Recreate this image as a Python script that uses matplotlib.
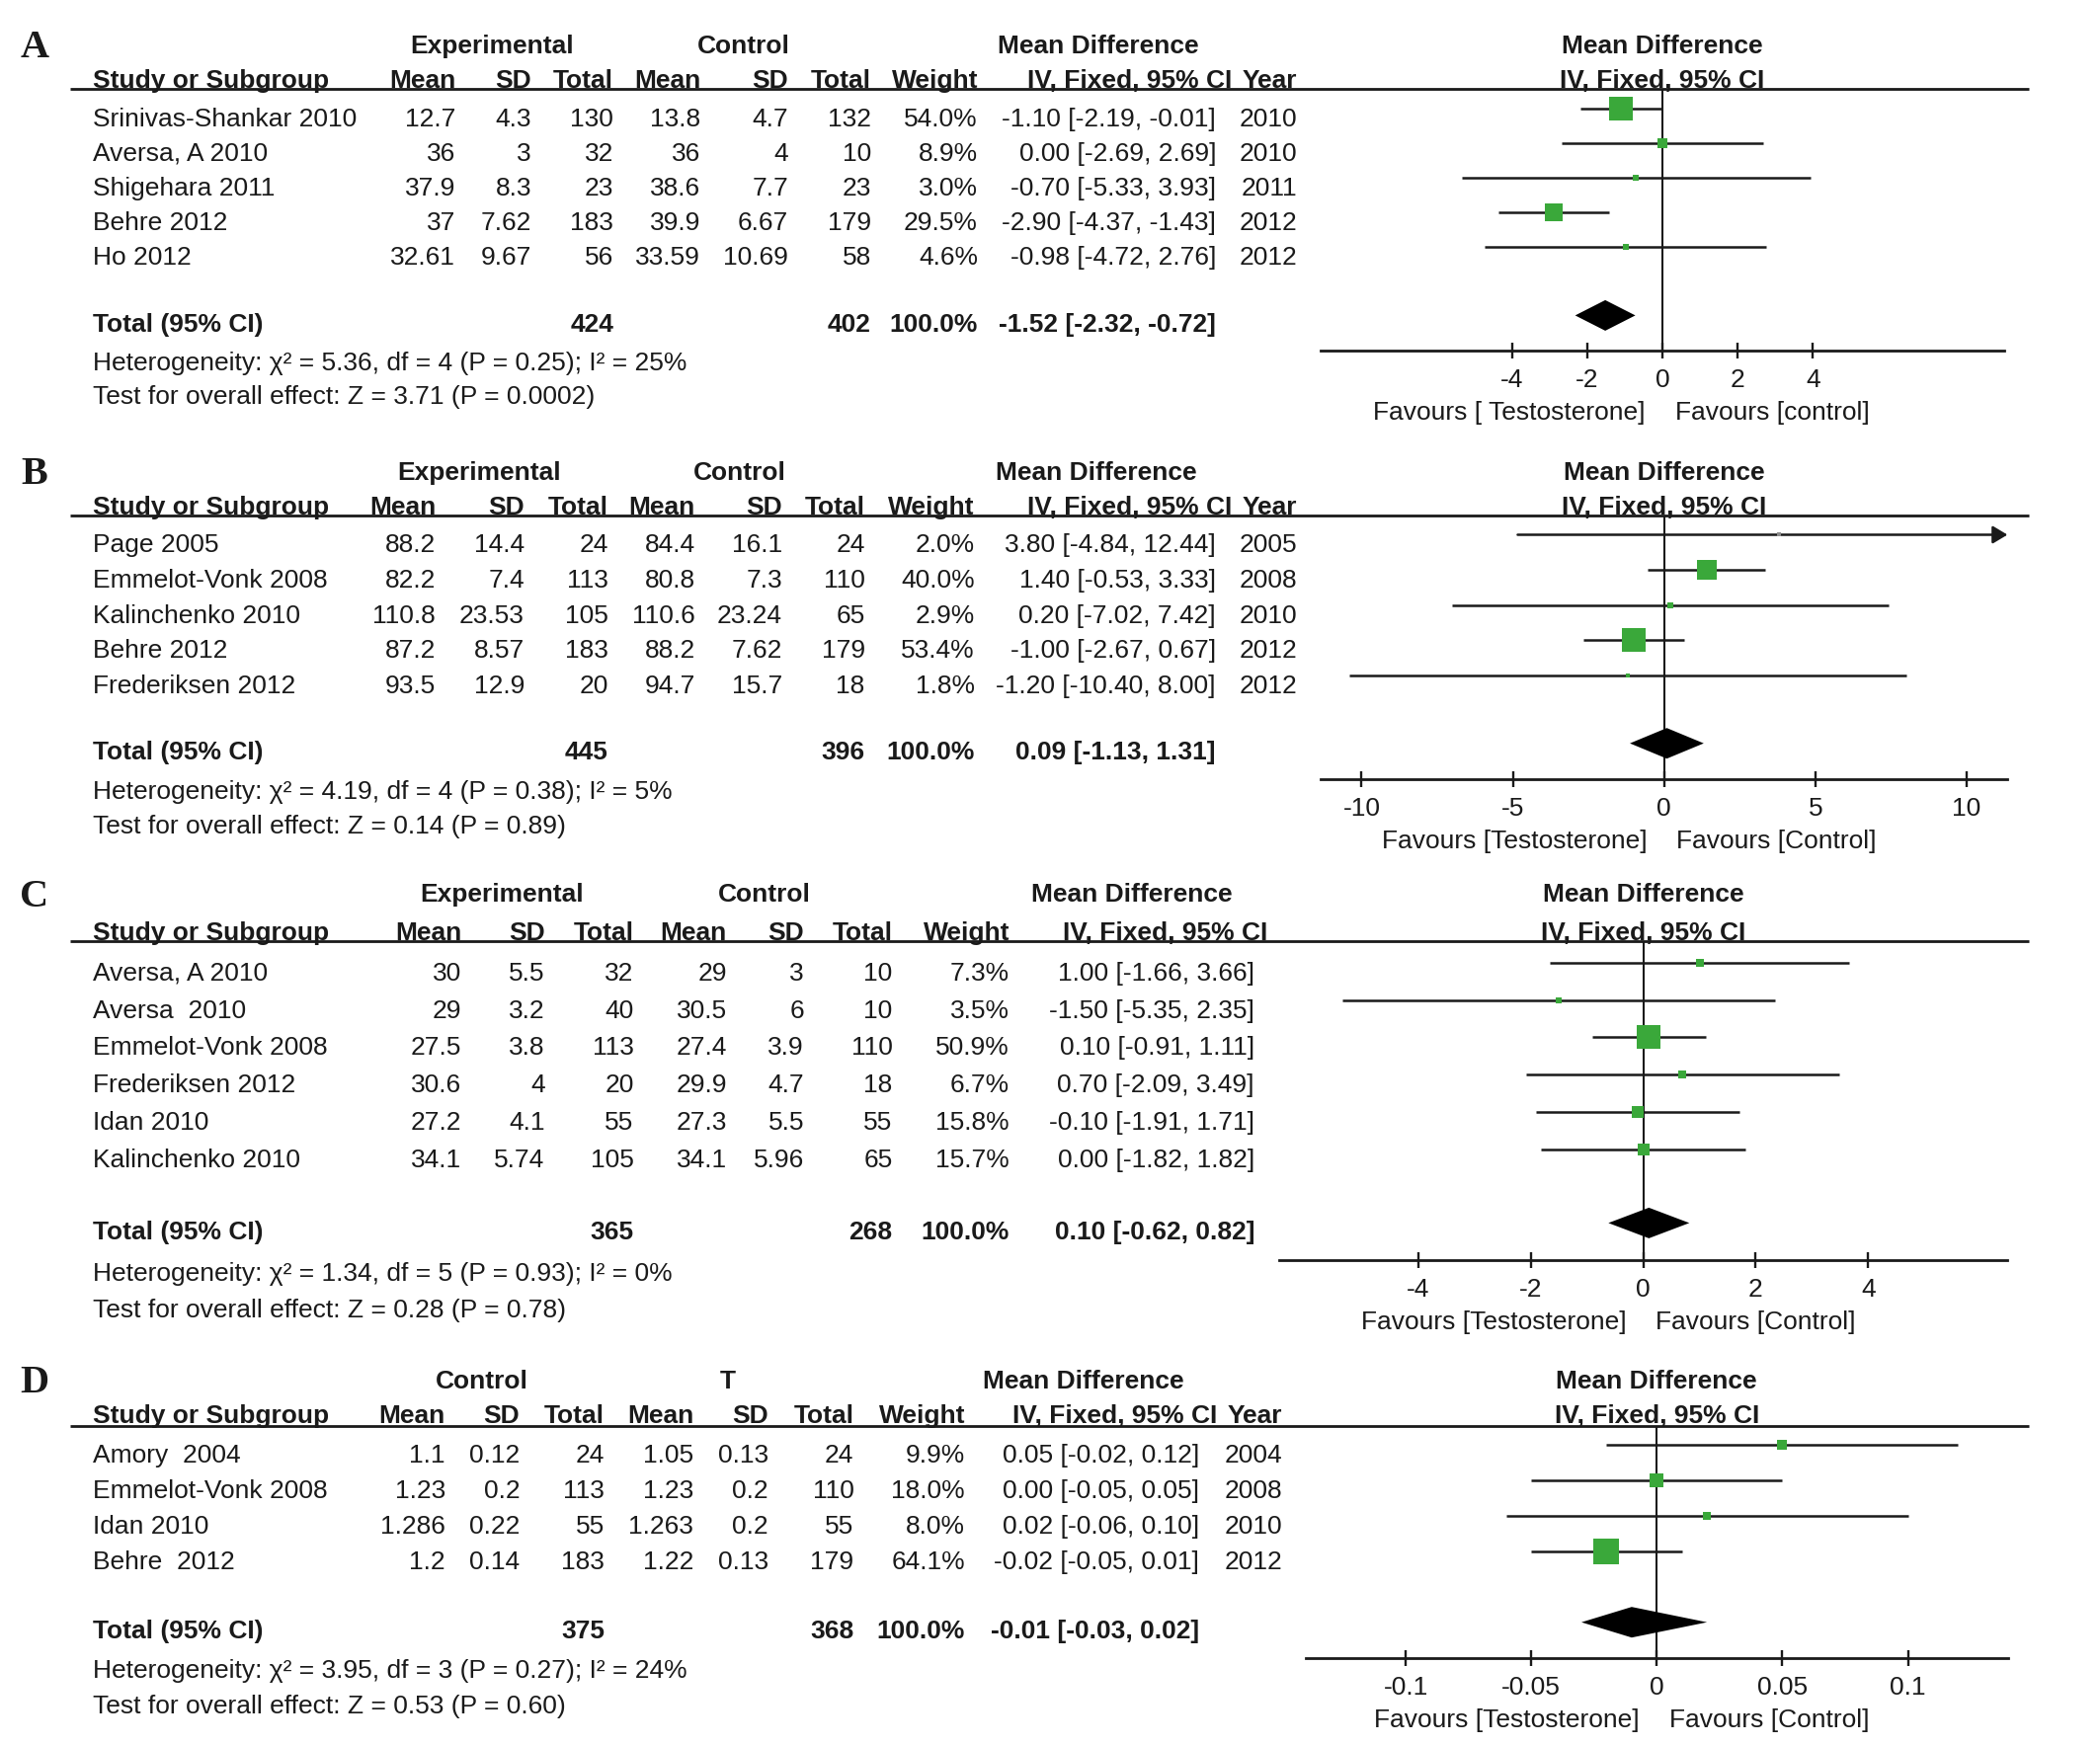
import matplotlib

matplotlib.use("Agg")
import matplotlib.pyplot as plt
from matplotlib.transforms import blended_transform_factory

plt.rcParams["font.family"] = ["Liberation Sans", "DejaVu Sans"]
plt.rcParams["font.size"] = 19
plt.rcParams["axes.unicode_minus"] = False
plt.rcParams["text.color"] = "#1a1a1a"

W, H = 2126, 1767
INK = "#1a1a1a"
GREEN = "#3aa83a"
GREY = "#8c8c8c"

# ---- A: Experimental vs Control
a_studies = ["Srinivas-Shankar 2010", "Aversa, A 2010", "Shigehara 2011", "Behre 2012", "Ho 2012"]
a_exp_mean = [12.7, 36, 37.9, 37, 32.61]
a_exp_sd = [4.3, 3, 8.3, 7.62, 9.67]
a_exp_n = [130, 32, 23, 183, 56]
a_ctl_mean = [13.8, 36, 38.6, 39.9, 33.59]
a_ctl_sd = [4.7, 4, 7.7, 6.67, 10.69]
a_ctl_n = [132, 10, 23, 179, 58]
a_weight = [54.0, 8.9, 3.0, 29.5, 4.6]
a_md = [-1.10, 0.00, -0.70, -2.90, -0.98]
a_lo = [-2.19, -2.69, -5.33, -4.37, -4.72]
a_hi = [-0.01, 2.69, 3.93, -1.43, 2.76]
a_year = [2010, 2010, 2011, 2012, 2012]
a_total = [424, 402, -1.52, -2.32, -0.72]
a_notes = ["Heterogeneity: χ² = 5.36, df = 4 (P = 0.25); I² = 25%",
           "Test for overall effect: Z = 3.71 (P = 0.0002)"]
a_ticks = [-4, -2, 0, 2, 4]
a_favours = ["Favours [ Testosterone]", "Favours [control]"]

# ---- B
b_studies = ["Page 2005", "Emmelot-Vonk 2008", "Kalinchenko 2010", "Behre 2012", "Frederiksen 2012"]
b_exp_mean = [88.2, 82.2, 110.8, 87.2, 93.5]
b_exp_sd = [14.4, 7.4, 23.53, 8.57, 12.9]
b_exp_n = [24, 113, 105, 183, 20]
b_ctl_mean = [84.4, 80.8, 110.6, 88.2, 94.7]
b_ctl_sd = [16.1, 7.3, 23.24, 7.62, 15.7]
b_ctl_n = [24, 110, 65, 179, 18]
b_weight = [2.0, 40.0, 2.9, 53.4, 1.8]
b_md = [3.80, 1.40, 0.20, -1.00, -1.20]
b_lo = [-4.84, -0.53, -7.02, -2.67, -10.40]
b_hi = [12.44, 3.33, 7.42, 0.67, 8.00]
b_year = [2005, 2008, 2010, 2012, 2012]
b_total = [445, 396, 0.09, -1.13, 1.31]
b_notes = ["Heterogeneity: χ² = 4.19, df = 4 (P = 0.38); I² = 5%",
           "Test for overall effect: Z = 0.14 (P = 0.89)"]
b_ticks = [-10, -5, 0, 5, 10]
b_favours = ["Favours [Testosterone]", "Favours [Control]"]

# ---- C (no year column)
c_studies = ["Aversa, A 2010", "Aversa  2010", "Emmelot-Vonk 2008", "Frederiksen 2012",
             "Idan 2010", "Kalinchenko 2010"]
c_exp_mean = [30, 29, 27.5, 30.6, 27.2, 34.1]
c_exp_sd = [5.5, 3.2, 3.8, 4, 4.1, 5.74]
c_exp_n = [32, 40, 113, 20, 55, 105]
c_ctl_mean = [29, 30.5, 27.4, 29.9, 27.3, 34.1]
c_ctl_sd = [3, 6, 3.9, 4.7, 5.5, 5.96]
c_ctl_n = [10, 10, 110, 18, 55, 65]
c_weight = [7.3, 3.5, 50.9, 6.7, 15.8, 15.7]
c_md = [1.00, -1.50, 0.10, 0.70, -0.10, 0.00]
c_lo = [-1.66, -5.35, -0.91, -2.09, -1.91, -1.82]
c_hi = [3.66, 2.35, 1.11, 3.49, 1.71, 1.82]
c_total = [365, 268, 0.10, -0.62, 0.82]
c_notes = ["Heterogeneity: χ² = 1.34, df = 5 (P = 0.93); I² = 0%",
           "Test for overall effect: Z = 0.28 (P = 0.78)"]
c_ticks = [-4, -2, 0, 2, 4]
c_favours = ["Favours [Testosterone]", "Favours [Control]"]

# ---- D: Control vs T
d_studies = ["Amory  2004", "Emmelot-Vonk 2008", "Idan 2010", "Behre  2012"]
d_exp_mean = [1.1, 1.23, 1.286, 1.2]
d_exp_sd = [0.12, 0.2, 0.22, 0.14]
d_exp_n = [24, 113, 55, 183]
d_ctl_mean = [1.05, 1.23, 1.263, 1.22]
d_ctl_sd = [0.13, 0.2, 0.2, 0.13]
d_ctl_n = [24, 110, 55, 179]
d_weight = [9.9, 18.0, 8.0, 64.1]
d_md = [0.05, 0.00, 0.02, -0.02]
d_lo = [-0.02, -0.05, -0.06, -0.05]
d_hi = [0.12, 0.05, 0.10, 0.01]
d_year = [2004, 2008, 2010, 2012]
d_total = [375, 368, -0.01, -0.03, 0.02]
d_notes = ["Heterogeneity: χ² = 3.95, df = 3 (P = 0.27); I² = 24%",
           "Test for overall effect: Z = 0.53 (P = 0.60)"]
d_ticks = [-0.1, -0.05, 0, 0.05, 0.1]
d_favours = ["Favours [Testosterone]", "Favours [Control]"]

COL_HEADS = ["Mean", "SD", "Total", "Mean", "SD", "Total", "Weight"]

# layout, in pixels of the 2126 x 1767 canvas
PANELS = [
    dict(letter="A", groups=["Experimental", "Control"],
         studies=a_studies, cells=[a_exp_mean, a_exp_sd, a_exp_n, a_ctl_mean, a_ctl_sd, a_ctl_n],
         weight=a_weight, md=a_md, lo=a_lo, hi=a_hi, year=a_year, total=a_total,
         notes=a_notes, ticks=a_ticks, favours=a_favours,
         group_y=45, head_y=80, rule_y=90, row0=118.3, step=35.0, total_y=326.7,
         note_y=[365.7, 400], axis_y=355, zero=1683, unit=38.07, half=9.1,
         cols=[461, 538, 621, 709, 798, 882, 990, 1231, 1313], iv_head=1247,
         group_x=[498, 753, 1112]),
    dict(letter="B", groups=["Experimental", "Control"],
         studies=b_studies, cells=[b_exp_mean, b_exp_sd, b_exp_n, b_ctl_mean, b_ctl_sd, b_ctl_n],
         weight=b_weight, md=b_md, lo=b_lo, hi=b_hi, year=b_year, total=b_total,
         notes=b_notes, ticks=b_ticks, favours=b_favours,
         group_y=476.7, head_y=511.7, rule_y=522, row0=550, step=35.6, total_y=760,
         note_y=[799.3, 834.3], axis_y=789, zero=1684.7, unit=30.63, half=11.35,
         cols=[441, 531, 615.6, 704, 792, 875.7, 986.6, 1231, 1313], iv_head=1247,
         group_x=[485.5, 748.6, 1110]),
    dict(letter="C", groups=["Experimental", "Control"],
         studies=c_studies, cells=[c_exp_mean, c_exp_sd, c_exp_n, c_ctl_mean, c_ctl_sd, c_ctl_n],
         weight=c_weight, md=c_md, lo=c_lo, hi=c_hi, year=None, total=c_total,
         notes=c_notes, ticks=c_ticks, favours=c_favours,
         group_y=904, head_y=942.3, rule_y=953.3, row0=983.3, step=37.8, total_y=1245.7,
         note_y=[1287.3, 1324.3], axis_y=1276, zero=1663.6, unit=56.9, half=6.47,
         cols=[467, 551.5, 641.6, 736, 814, 903.4, 1022, 1270], iv_head=1283,
         group_x=[507.6, 773.8, 1145.7]),
    dict(letter="D", groups=["Control", "T"],
         studies=d_studies, cells=[d_exp_mean, d_exp_sd, d_exp_n, d_ctl_mean, d_ctl_sd, d_ctl_n],
         weight=d_weight, md=d_md, lo=d_lo, hi=d_hi, year=d_year, total=d_total,
         notes=d_notes, ticks=d_ticks, favours=d_favours,
         group_y=1396.7, head_y=1431.7, rule_y=1443.5, row0=1471.7, step=35.9, total_y=1650,
         note_y=[1690, 1726], axis_y=1679, zero=1677.3, unit=2542, half=0.1398,
         cols=[450.8, 526.3, 612, 702.3, 777.7, 864.4, 977, 1213.8, 1298], iv_head=1232,
         group_x=[487.7, 737, 1096.8]),
]

BASE = 9.4      # text centre -> baseline
MARK = 8.5      # marks sit a little above the text centre
LEFT = 94.5


def fmt_ci(md, lo, hi):
    return f"{md:.2f} [{lo:.2f}, {hi:.2f}]"


def draw_table(over, p):
    over.text(35, p["group_y"] + 13.5, p["letter"], family="Liberation Serif",
              fontweight="bold", fontsize=29, ha="center", va="baseline")
    for cx, name in zip(p["group_x"], p["groups"] + ["Mean Difference"]):
        over.text(cx, p["group_y"] + BASE, name, ha="center", va="baseline", fontweight="bold")

    heads = COL_HEADS + ["IV, Fixed, 95% CI"]
    head_x = p["cols"][:7] + [p["iv_head"]]
    if p["year"] is not None:
        heads = heads + ["Year"]
        head_x = head_x + [p["cols"][8]]
    over.text(LEFT, p["head_y"] + BASE, "Study or Subgroup", ha="left", va="baseline", fontweight="bold")
    for x, name in zip(head_x, heads):
        over.text(x, p["head_y"] + BASE, name, ha="right", va="baseline", fontweight="bold")
    over.plot([71, 2054], [p["rule_y"], p["rule_y"]], color=INK, lw=2.0, solid_capstyle="butt")

    for i, study in enumerate(p["studies"]):
        y = p["row0"] + i * p["step"] + BASE
        over.text(LEFT, y, study, ha="left", va="baseline")
        row = [f"{col[i]:g}" for col in p["cells"]]
        row += [f"{p['weight'][i]:.1f}%", fmt_ci(p["md"][i], p["lo"][i], p["hi"][i])]
        if p["year"] is not None:
            row.append(str(p["year"][i]))
        for x, s in zip(p["cols"], row):
            over.text(x, y, s, ha="right", va="baseline")

    n_exp, n_ctl, md, lo, hi = p["total"]
    y = p["total_y"] + BASE
    over.text(LEFT, y, "Total (95% CI)", ha="left", va="baseline", fontweight="bold")
    for x, s in [(p["cols"][2], str(n_exp)), (p["cols"][5], str(n_ctl)),
                 (p["cols"][6], "100.0%"), (p["cols"][7], fmt_ci(md, lo, hi))]:
        over.text(x, y, s, ha="right", va="baseline", fontweight="bold")
    for ny, note in zip(p["note_y"], p["notes"]):
        over.text(LEFT, ny + BASE, note, ha="left", va="baseline")


def draw_forest(fig, over, p):
    half, unit = p["half"], p["unit"]
    x0 = p["zero"] - half * unit
    x1 = p["zero"] + half * unit
    ax = fig.add_axes([x0 / W, 1 - p["axis_y"] / H, (x1 - x0) / W, (p["axis_y"] - p["rule_y"]) / H])
    ax.set_xlim(-half, half)
    ax.set_ylim(p["axis_y"], p["rule_y"])
    ax.patch.set_visible(False)
    for side in ("top", "left", "right"):
        ax.spines[side].set_visible(False)
    ax.spines["bottom"].set_linewidth(2.0)
    ax.spines["bottom"].set_color(INK)
    ax.set_yticks([])
    ax.set_xticks(p["ticks"], [f"{t:g}" for t in p["ticks"]])
    ax.tick_params(axis="x", direction="inout", length=12, width=1.7, pad=7,
                   labelsize=19, colors=INK)
    ax.axvline(0, color=INK, lw=1.5, zorder=1)

    for i in range(len(p["md"])):
        y = p["row0"] + i * p["step"] - MARK
        lo, hi = p["lo"][i], p["hi"][i]
        off_scale = hi > half or lo < -half
        if off_scale:
            ax.annotate("", xy=(min(hi, half), y), xytext=(max(lo, -half), y),
                        arrowprops=dict(arrowstyle="-|>,head_length=0.5,head_width=0.3",
                                        color=INK, lw=1.8, shrinkA=0, shrinkB=0,
                                        mutation_scale=18),
                        annotation_clip=False)
        else:
            ax.hlines(y, lo, hi, color=INK, lw=1.8, zorder=2)
        side_pt = (2.46 * p["weight"][i] ** 0.56 + 0.8) * 0.72
        ax.scatter([p["md"][i]], [y], s=side_pt ** 2, marker="s", linewidths=0,
                   color=GREY if off_scale else GREEN, zorder=3)

    _, _, md, lo, hi = p["total"]
    yd = p["total_y"] - 7.3
    hh = 15.5
    ax.fill([lo, md, hi, md], [yd, yd - hh, yd, yd + hh], color="black", lw=0, zorder=3)

    trans = blended_transform_factory(ax.transData, over.transData)
    ax.text(0, p["group_y"] + BASE, "Mean Difference", transform=trans,
            ha="center", va="baseline", fontweight="bold")
    ax.text(0, p["head_y"] + BASE, "IV, Fixed, 95% CI", transform=trans,
            ha="center", va="baseline", fontweight="bold")
    ax.annotate(p["favours"][0], xy=(0, 0), xycoords=("data", "axes fraction"),
                xytext=(-12.5, -50.7), textcoords="offset points", ha="right", va="baseline")
    ax.annotate(p["favours"][1], xy=(0, 0), xycoords=("data", "axes fraction"),
                xytext=(9, -50.7), textcoords="offset points", ha="left", va="baseline")


def main():
    fig = plt.figure(figsize=(W / 100, H / 100), dpi=100)
    over = fig.add_axes([0, 0, 1, 1])
    over.set_xlim(0, W)
    over.set_ylim(H, 0)
    over.axis("off")
    for p in PANELS:
        draw_table(over, p)
        draw_forest(fig, over, p)
    fig.savefig("out.png", dpi=100, facecolor="white")
    plt.close(fig)


if __name__ == "__main__":
    main()
